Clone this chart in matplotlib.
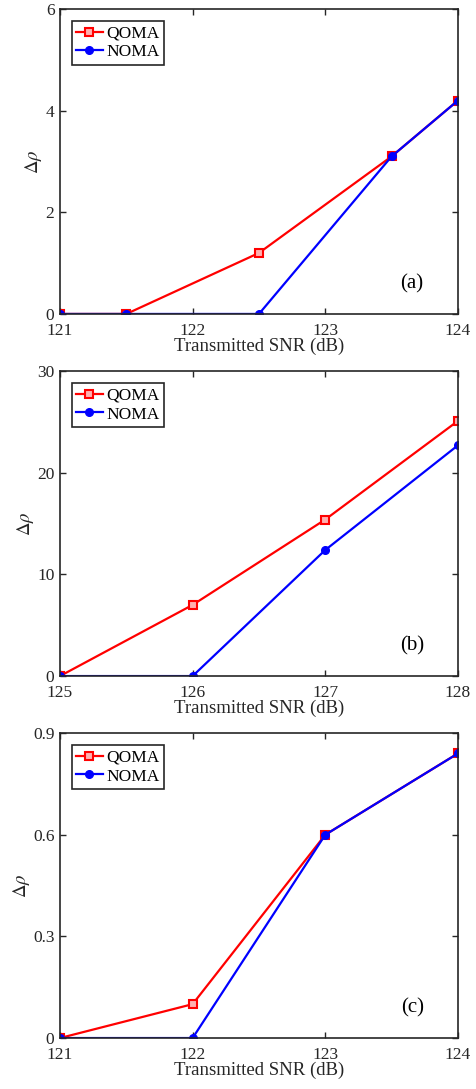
import matplotlib.pyplot as plt

plt.rcParams['font.family'] = 'Liberation Serif'
plt.rcParams['mathtext.fontset'] = 'stix'

# ---------- DATA ----------
snr_a = [121, 121.5, 122.5, 123.5, 124]
qoma_a = [0, 0, 1.2, 3.1, 4.2]
noma_a = [0, 0, 0, 3.1, 4.2]

snr_b = [125, 126, 127, 128]
qoma_b = [0, 7.0, 15.4, 25.1]
noma_b = [0, 0, 12.4, 22.7]

snr_c = [121, 122, 123, 124]
qoma_c = [0, 0.1, 0.6, 0.84]
noma_c = [0, 0, 0.6, 0.84]

panels = [
    (snr_a, qoma_a, noma_a, [121, 122, 123, 124], [0, 2, 4, 6], ['0', '2', '4', '6'], '(a)'),
    (snr_b, qoma_b, noma_b, [125, 126, 127, 128], [0, 10, 20, 30], ['0', '10', '20', '30'], '(b)'),
    (snr_c, qoma_c, noma_c, [121, 122, 123, 124], [0, 0.3, 0.6, 0.9], ['0', '0.3', '0.6', '0.9'], '(c)'),
]

fig = plt.figure(figsize=(4.76, 10.89), dpi=100)
bottoms = [0.7117, 0.3792, 0.0468]

for (x, q, n, xt, yt, ytl, tag), b in zip(panels, bottoms):
    ax = fig.add_axes([0.126, b, 0.836, 0.280])
    ax.plot(x, q, color='red', lw=1.6, marker='s', ms=6, mfc='#ffb0b0', mew=1.5, label='QOMA')
    ax.plot(x, n, color='blue', lw=1.6, marker='o', ms=5.5, label='NOMA')
    ax.set_xlim(xt[0], xt[-1])
    ax.set_ylim(yt[0], yt[-1])
    ax.set_xticks(xt)
    ax.set_yticks(yt)
    ax.set_yticklabels(ytl)
    ax.tick_params(direction='in', top=True, right=True, labelsize=12.5,
                   colors='#262626', length=4, width=1)
    ax.tick_params(axis='x', pad=6.5)
    ax.tick_params(axis='y', pad=4)
    for s in ax.spines.values():
        s.set_linewidth(1.2)
        s.set_color('#262626')
    ax.set_xlabel('Transmitted SNR (dB)', fontsize=13.5, color='#262626', labelpad=-1)
    ax.set_ylabel(r'$\Delta\rho$', fontsize=13.5, color='#262626', labelpad=1)
    ax.text(0.885, 0.10, tag, transform=ax.transAxes, fontsize=15, ha='center', va='center')
    leg = ax.legend(loc='upper left', fontsize=12.5, fancybox=False, framealpha=1,
                    edgecolor='#262626', borderpad=0.25, handlelength=1.5,
                    handletextpad=0.2, labelspacing=0.15, borderaxespad=0.7)
    leg.get_frame().set_linewidth(1.2)

plt.savefig('out.png', dpi=100)
